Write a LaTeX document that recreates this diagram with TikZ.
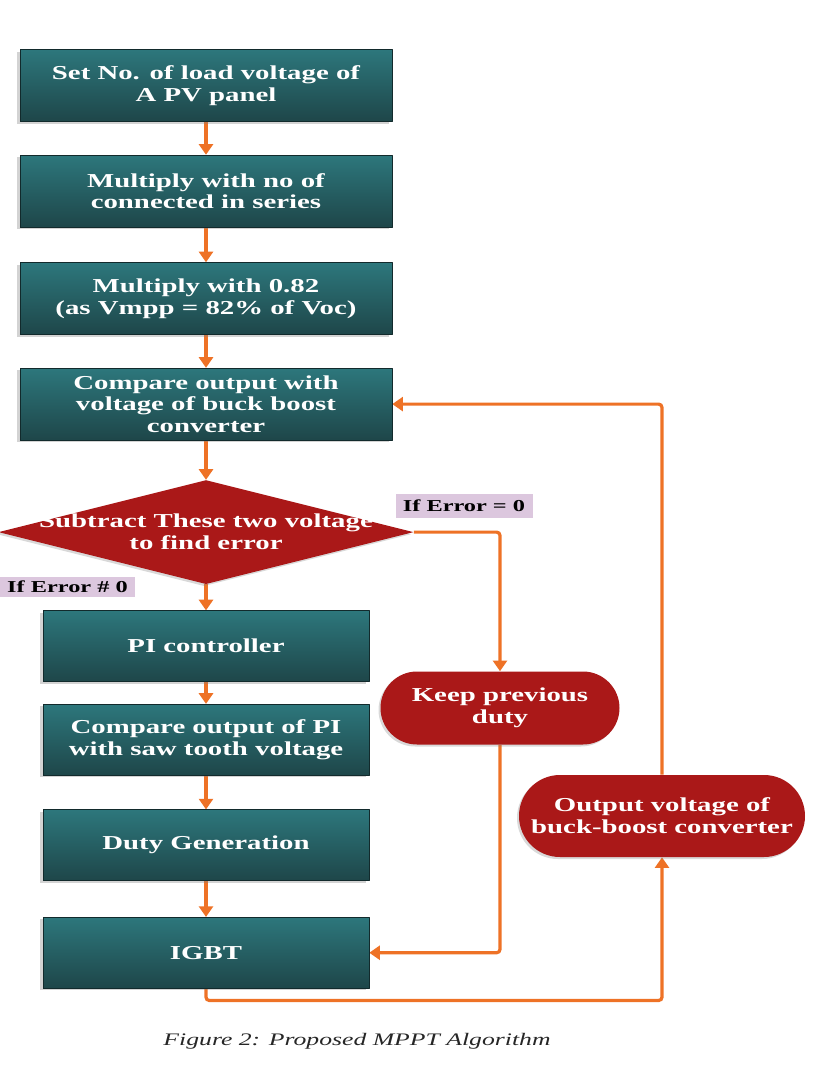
\documentclass[tikz,border=0pt]{standalone}
\usepackage{fontspec}
\setmainfont{Liberation Serif}[FakeStretch=1.46]
\usepackage{tikz}
\usetikzlibrary{arrows.meta,calc,positioning,shapes.geometric,shadows}
\pgfdeclarelayer{bg}
\pgfsetlayers{bg,main}
\definecolor{tealTop}{HTML}{2D777C}
\definecolor{tealBot}{HTML}{1E4649}
\definecolor{darkRed}{HTML}{AA1818}
\definecolor{flowOrange}{HTML}{EE7226}
\definecolor{lilac}{HTML}{DCC7DE}

\begin{document}
\begin{tikzpicture}[
  x=0.75pt, y=-0.75pt,
  >={Triangle[width=10.5pt,length=8pt]},
  line join=round,
  every node/.style={font=\bfseries\fontsize{14.8}{16.3}\selectfont, align=center},
  box/.style={rectangle, draw=tealBot!60!black, thin, top color=tealTop, bottom color=tealBot, text=white, minimum width=279pt, minimum height=54pt, inner sep=2pt, drop shadow={shadow xshift=-2pt, shadow yshift=-1.5pt, opacity=0.35}},
  lowbox/.style={box, minimum width=244.5pt, minimum height=53.25pt},
  redpill/.style={rectangle, fill=darkRed, text=white, inner sep=0pt, drop shadow={shadow xshift=-1.5pt, shadow yshift=-1.5pt, opacity=0.3}},
  decision/.style={diamond, fill=darkRed, inner sep=0pt, minimum width=311.25pt, minimum height=78pt, drop shadow={shadow xshift=-1.5pt, shadow yshift=-1.5pt, opacity=0.3}},
  tag/.style={fill=lilac, text=black, font=\bfseries\fontsize{12.5}{14}\selectfont, inner sep=2pt},
  arrow/.style={->, draw=flowOrange, line width=2.4pt, rounded corners=2.5pt}
]
  \useasboundingbox (0,0) rectangle (825,1079);

  \node[box] (setLoad) at (206,85.5) {Set No. of load voltage of\\A PV panel};
  \node[box, below=24.75pt of setLoad] (seriesMul) {Multiply with no of\\connected in series};
  \node[box, below=26.25pt of seriesMul] (vmppMul) {Multiply with 0.82\\(as Vmpp = 82\% of Voc)};
  \node[box, below=24.75pt of vmppMul] (compareBB) {Compare output with\\voltage of buck boost\\converter};

  \node[decision, below=29.6pt of compareBB] (errDiamond) {};
  \node[text=white] (errText) at (errDiamond.center) {Subtract These two voltage\\to find error};

  \node[lowbox, below=19.5pt of errDiamond] (piCtrl) {PI controller};
  \node[lowbox, below=16.5pt of piCtrl] (comparePI) {Compare output of PI\\with saw tooth voltage};
  \node[lowbox, below=25.5pt of comparePI] (dutyGen) {Duty Generation};
  \node[lowbox, below=27pt of dutyGen] (igbt) {IGBT};

  % side branch and feedback loop
  \node[redpill, minimum width=179.25pt, minimum height=54.75pt, rounded corners=27.4pt] (keepDuty) at (500,708) {Keep previous\\duty};
  \node[redpill, minimum width=214.5pt, minimum height=61.5pt, rounded corners=30.75pt] (outVolt) at (662,816) {Output voltage of\\buck-boost converter};

  \node[tag, minimum width=102.75pt, minimum height=18pt] (tagZero) at (464,506) {If Error = 0};
  \node[tag, minimum width=101.25pt, minimum height=15pt] (tagNonZero) at (67.5,587) {If Error \# 0};

  \coordinate (loopBase) at ($(igbt.south)+(0,12)$);

  \begin{pgfonlayer}{bg}
    \draw[arrow] (setLoad) -- (seriesMul);
    \draw[arrow] (seriesMul) -- (vmppMul);
    \draw[arrow] (vmppMul) -- (compareBB);
    \draw[arrow] (compareBB) -- (errDiamond);
    \draw[arrow] (errDiamond) -- (piCtrl);
    \draw[arrow] (piCtrl) -- (comparePI);
    \draw[arrow] (comparePI) -- (dutyGen);
    \draw[arrow] (dutyGen) -- (igbt);

    % Error = 0: hold the duty and feed it to the IGBT
    \draw[arrow] (errDiamond.east) -| (keepDuty.north);
    \draw[arrow] (keepDuty.south) |- (igbt.east);
    % measured output back to the comparison
    \draw[arrow] (igbt.south) -- (loopBase) -| (outVolt.south);
    \draw[arrow] (outVolt.north) |- (compareBB.east);
  \end{pgfonlayer}

  \node[font=\itshape\fontsize{13.2}{15}\selectfont, text=black!85] (caption) at (357,1041) {Figure 2: Proposed MPPT Algorithm};
\end{tikzpicture}
\end{document}
